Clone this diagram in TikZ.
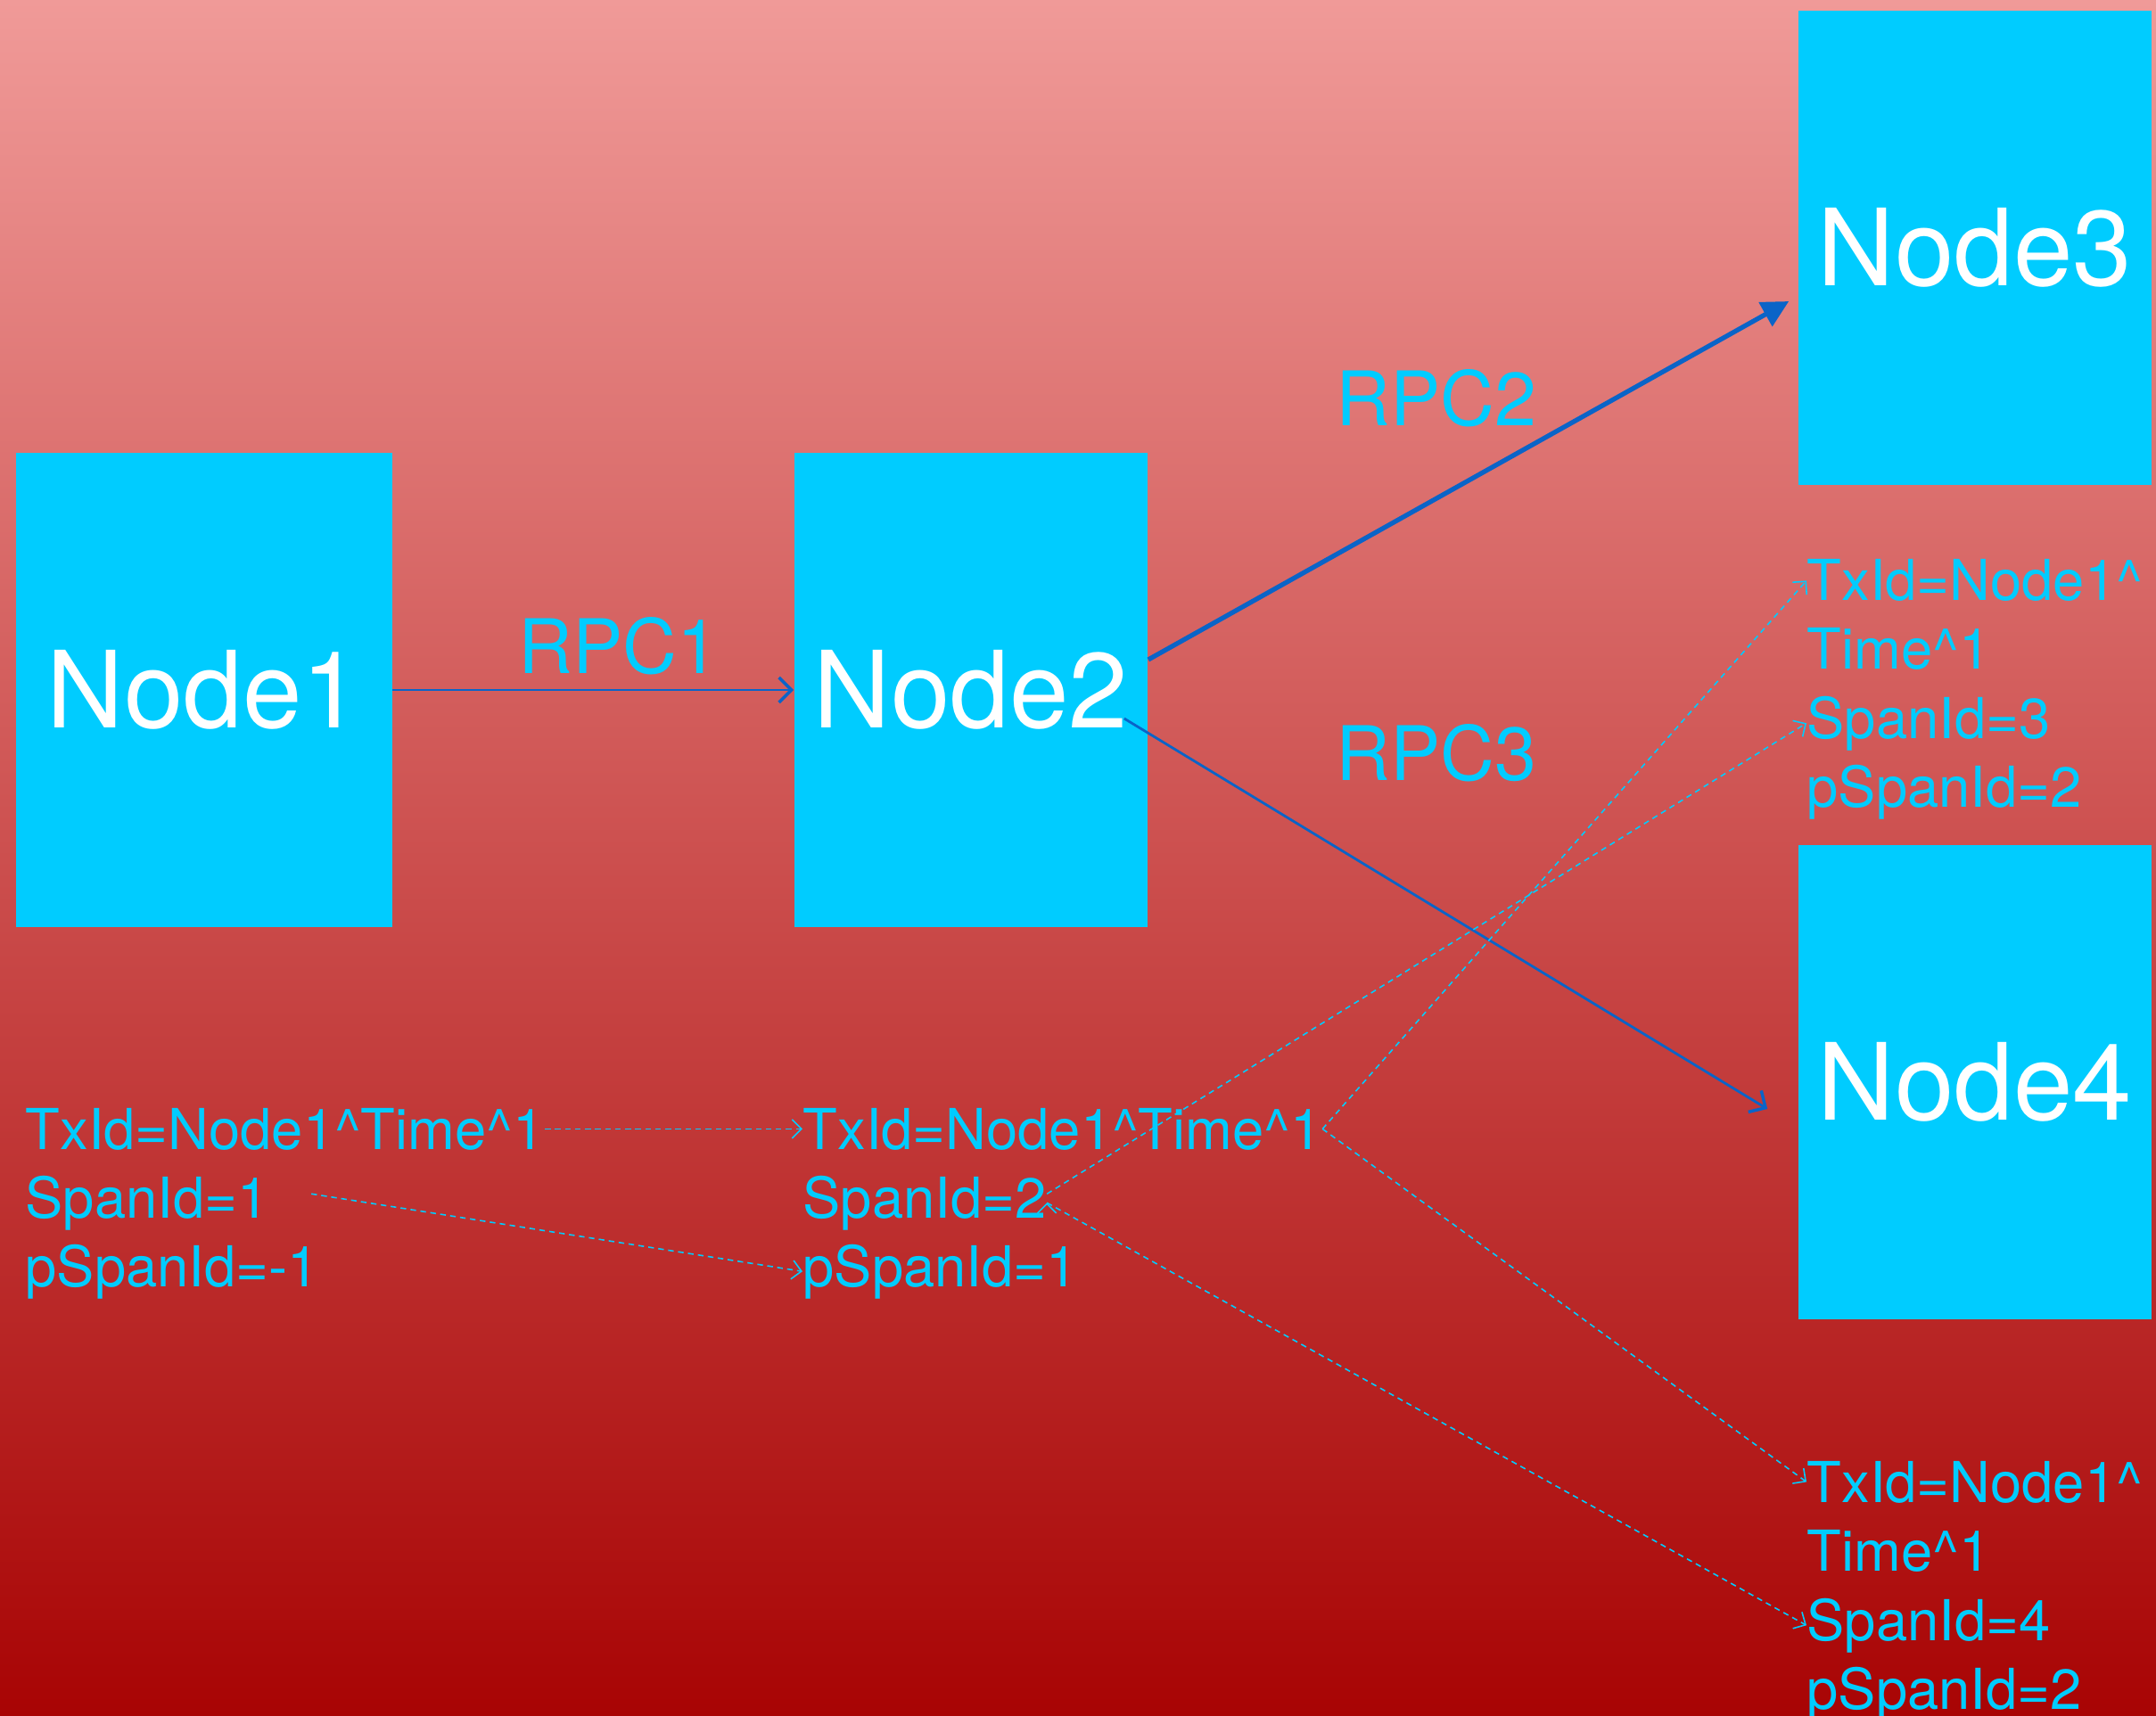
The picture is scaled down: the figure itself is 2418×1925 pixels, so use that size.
\documentclass[tikz,border=0pt]{standalone}
\usepackage{fontspec}
\setmainfont{TeX Gyre Heros}
\usetikzlibrary{arrows.meta, positioning}
\definecolor{boxcyan}{HTML}{00CCFF}
\definecolor{rpcblue}{HTML}{0A64C8}
\definecolor{bgtop}{HTML}{F09A98}
\definecolor{bgbottom}{HTML}{A80404}

\begin{document}
\begin{tikzpicture}[x=0.01cm,y=-0.01cm,
   box/.style={rectangle,fill=boxcyan,text=white,inner sep=0pt,minimum width=3.96cm,minimum height=5.32cm,font=\fontsize{34}{40}\selectfont},
   rpc/.style={text=boxcyan,font=\fontsize{24}{28}\selectfont},
   info/.style={text=boxcyan,inner sep=0pt,anchor=base west,font=\fontsize{18}{22}\selectfont},
   call/.style={draw=rpcblue,line width=0.6pt,-{Straight Barb[length=4pt,width=8pt,line width=1pt]}},
   trace/.style={draw=boxcyan,line width=0.45pt,dash pattern=on 1.8pt off 1.4pt,-{Straight Barb[length=3pt,width=6pt]}}]
   \useasboundingbox (0,0) rectangle (2418,1925);
   \shade[top color=bgtop,bottom color=bgbottom] (0,0) rectangle (2418,1925);
   % the four boxes
   \node[box,minimum width=4.21cm] (node1) at (229,774) {Node1};
   \node[box] (node2) at (1089,774) {Node2};
   \node[box] (node3) at (2215,278) {Node3};
   \node[box] (node4) at (2215,1214) {Node4};
   \node[rpc] (rpc1) at (694,725) {RPC1};
   \node[rpc] (rpc2) at (1611,447) {RPC2};
   \node[rpc] (rpc3) at (1611,845) {RPC3};
   \path[call] (node1.east) -- (node2.west);
   \path[call,line width=1.5pt,-{Triangle[length=0.3cm,width=0.3cm]}]
    ([yshift=0.34cm]node2.east) -- ([xshift=-0.1cm,yshift=-0.6cm]node3.west);
   \path[call,line width=0.8pt]
    ([xshift=-0.27cm,yshift=-0.32cm]node2.east) -- ([xshift=-0.34cm,yshift=-0.3cm]node4.west);
   % span info
   \node[info] (tx1) at (28,1289) {TxId=Node1\^{}Time\^{}1};
   \node[info] (sp1) at (28,1366) {SpanId=1};
   \node[info] (ps1) at (28,1443) {pSpanId=-1};
   \node[info] (tx2) at (900,1289) {TxId=Node1\^{}Time\^{}1};
   \node[info] (sp2) at (900,1366) {SpanId=2};
   \node[info] (ps2) at (900,1443) {pSpanId=1};
   \node[info] (tx3) at (2026,674) {TxId=Node1\^{}};
   \node[info] (tm3) at (2026,751) {Time\^{}1};
   \node[info] (sp3) at (2026,828) {SpanId=3};
   \node[info] (ps3) at (2026,905) {pSpanId=2};
   \node[info] (tx4) at (2026,1685) {TxId=Node1\^{}};
   \node[info] (tm4) at (2026,1762) {Time\^{}1};
   \node[info] (sp4) at (2026,1840) {SpanId=4};
   \node[info] (ps4) at (2026,1917) {pSpanId=2};
   \path[trace]
    (tx1) edge (tx2)
    ([xshift=0.47cm,yshift=0.1cm]sp1.east) edge (ps2.west)
    (tx2.east) edge (tx3.west)
    ([yshift=0.1cm]sp2.east) edge (sp3.west)
    (tx2.east) edge (tx4.west)
    (sp2.east) edge (sp4.west);
\end{tikzpicture}
\end{document}
